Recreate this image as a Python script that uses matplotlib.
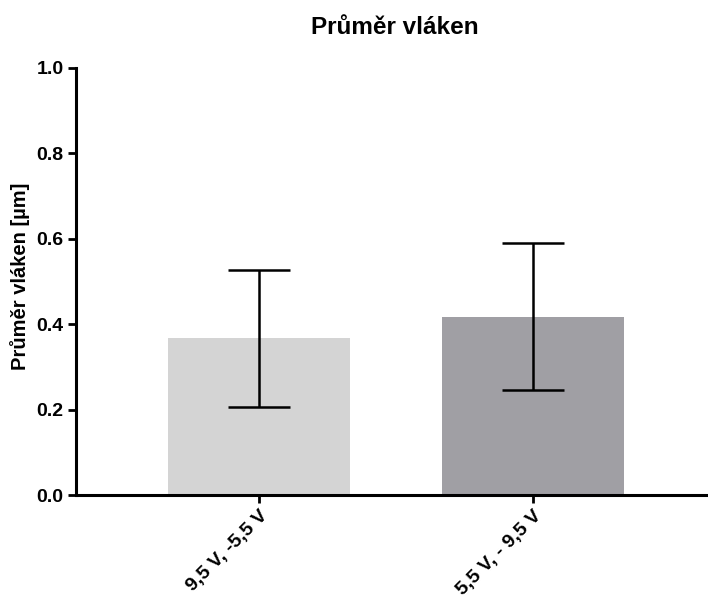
import matplotlib
matplotlib.use("Agg")
import matplotlib.pyplot as plt

categories = ["9,5 V, -5,5 V", "5,5 V, - 9,5 V"]
means = [0.367, 0.418]
errors = [0.160, 0.172]
colors = ["#d4d4d4", "#a09fa4"]

plt.rcParams['font.family'] = ['Liberation Sans', 'DejaVu Sans']

fig = plt.figure(figsize=(7.08, 6.02), dpi=100)
ax = fig.add_axes([76/708, 1-495/602, (707-76)/708, (495-68)/602])

x = list(range(len(categories)))
ax.bar(x, means, width=0.667, color=colors, zorder=1)
ax.errorbar(x, means, yerr=errors, fmt='none', ecolor='black', elinewidth=1.8,
            capsize=22, capthick=1.8, zorder=2)

ax.set_xlim(-0.668, 1.635)
ax.set_ylim(0, 1.0)
ax.set_yticks([0.0, 0.2, 0.4, 0.6, 0.8, 1.0])
ax.set_yticklabels([f"{v:.1f}" for v in [0.0, 0.2, 0.4, 0.6, 0.8, 1.0]],
                   fontsize=14, fontweight='bold')
ax.set_xticks(x)
ax.set_xticklabels(categories, rotation=45, ha='right', rotation_mode='anchor',
                   fontsize=14, fontweight='bold')
ax.tick_params(axis='both', width=2, length=6, direction='out', pad=3)

for s in ['top', 'right']:
    ax.spines[s].set_visible(False)
for s in ['left', 'bottom']:
    ax.spines[s].set_linewidth(2.2)

ax.set_ylabel("Průměr vláken [µm]", fontsize=14.5, fontweight='bold')
ax.yaxis.set_label_coords(-0.073, 0.513)
fig.text(395/708, 1-27/602, "Průměr vláken", ha='center', va='center',
         fontsize=17.5, fontweight='bold')

fig.savefig("out.png", dpi=100)
